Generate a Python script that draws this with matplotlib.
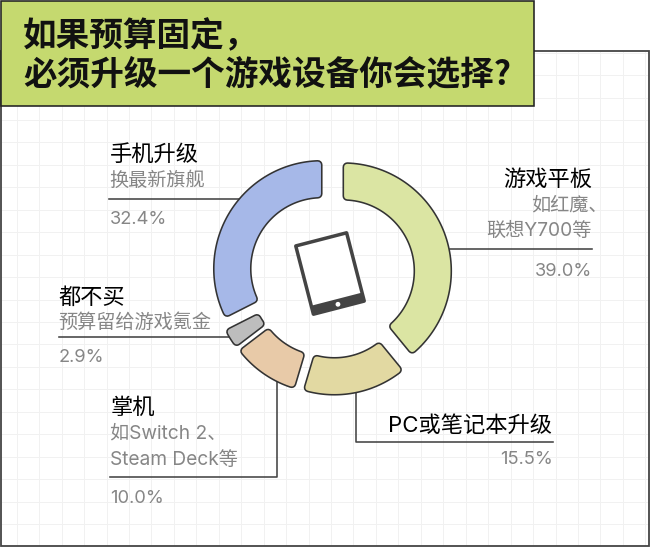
import matplotlib
matplotlib.use('Agg')
import matplotlib.pyplot as plt
import numpy as np
from matplotlib.patches import Rectangle, FancyBboxPatch, Circle, Polygon
from matplotlib.transforms import Affine2D

plt.rcParams['font.family'] = ['Noto Sans CJK SC', 'DejaVu Sans']

title = ['如果预算固定，', '必须升级一个游戏设备你会选择?']
names = ['游戏平板', 'PC或笔记本升级', '掌机', '都不买', '手机升级']
notes = ['如红魔、\n联想Y700等', '', '如Switch 2、\nSteam Deck等', '预算留给游戏氪金', '换最新旗舰']
values = [39.0, 15.5, 10.0, 2.9, 32.4]
colors = ['#DBE5A3', '#E2D9A2', '#E8CAA8', '#BDBDBD', '#A6B8E8']

DARK = '#333333'
GRAY = '#868686'
LATIN = ['Inter', 'Noto Sans CJK SC', 'DejaVu Sans']
PX = 0.72  # one pixel in points at dpi 100

fig = plt.figure(figsize=(6.5, 5.5), dpi=100)
ax = fig.add_axes([0, 0, 1, 1])
ax.set_xlim(0, 650)
ax.set_ylim(550, 0)
ax.axis('off')

# frame and faint grid
for gx in np.arange(16.7, 648, 22.45):
    ax.plot([gx, gx], [52, 545], color='#F1F1F1', lw=1 * PX, zorder=1)
for gy in np.arange(52.6, 545, 22.45):
    ax.plot([2, 648], [gy, gy], color='#F1F1F1', lw=1 * PX, zorder=1)
ax.add_patch(Rectangle((1, 51), 648, 495, fc='none', ec='#444444', lw=1.8 * PX, zorder=2))

# title box
ax.add_patch(Rectangle((1, 1), 533, 105, fc='#C5D96F', ec='#222222', lw=1.6 * PX, zorder=3))
ax.text(23, 36, title[0], fontsize=24.2, fontweight='bold', color='#111111', va='center', zorder=4)
ax.text(23, 75, title[1], fontsize=24.2, fontweight='bold', color='#111111', va='center', zorder=4)

# leader lines under the ring
lw_lead = 1.6 * PX
ax.plot([450, 592], [249, 249], color='#444444', lw=lw_lead, zorder=3)
ax.plot([356, 356, 553], [385, 441.7, 441.7], color='#444444', lw=lw_lead, zorder=3)
ax.plot([277, 277, 110], [375, 477, 477], color='#444444', lw=lw_lead, zorder=3)
ax.plot([59, 235], [337.3, 337.3], color='#444444', lw=lw_lead, zorder=3)
ax.plot([109, 245], [199, 199], color='#444444', lw=lw_lead, zorder=3)


def wedge_outline(cx, cy, a0, a1, r_out, r_in, c):
    # inset ring segment, the stroke puts the rounded corners back
    ro = r_out - c
    ri = r_in + c
    da_o = np.arcsin(c / ro)
    da_i = np.arcsin(c / ri)
    t_o = np.linspace(a0 + da_o, a1 - da_o, 80)
    t_i = np.linspace(a1 - da_i, a0 + da_i, 80)
    xs = np.r_[cx + ro * np.sin(t_o), cx + ri * np.sin(t_i)]
    ys = np.r_[cy - ro * np.cos(t_o), cy - ri * np.cos(t_i)]
    return np.c_[xs, ys]


# exploded donut, clockwise from the top
cx, cy = 332, 275
r_out, r_in, explode, corner = 108, 71, 12, 4
edges = np.r_[0, np.cumsum(values)] / np.sum(values) * 2 * np.pi
for i in range(len(values)):
    mid = (edges[i] + edges[i + 1]) / 2
    ox = cx + explode * np.sin(mid)
    oy = cy - explode * np.cos(mid)
    pts = wedge_outline(ox, oy, edges[i], edges[i + 1], r_out, r_in, corner)
    ax.add_patch(Polygon(pts, closed=True, fc=DARK, ec=DARK, lw=(2 * corner + 1.6) * PX, joinstyle='round', zorder=5))
    ax.add_patch(Polygon(pts, closed=True, fc=colors[i], ec=colors[i], lw=(2 * corner - 1.6) * PX, joinstyle='round', zorder=6))

# tablet icon in the middle
rot = Affine2D().rotate_deg_around(330, 273.5, -14.5) + ax.transData
ax.add_patch(FancyBboxPatch((302, 236.5), 56, 74, boxstyle='round,pad=0,rounding_size=2', fc='#444444', ec='none', transform=rot, zorder=7))
ax.add_patch(Rectangle((305.5, 240), 49, 60, fc='white', ec='none', transform=rot, zorder=8))
ax.add_patch(Circle((330, 305.3), 2.4, fc='white', ec='none', transform=rot, zorder=8))

# labels
fs_name = 16
fs_note = 13.8
fs_pct = 13.2


def name_text(x, y, s, ha='left'):
    ax.text(x, y + 1.5, s, fontsize=fs_name, color='#000000', family=LATIN, ha=ha, va='center', zorder=9)


def gray_text(x, y, s, ha='left', size=fs_note):
    ax.text(x, y + 1, s, fontsize=size, color=GRAY, family=LATIN, ha=ha, va='center', zorder=9)


pct = [f'{v:.1f}%' for v in values]

name_text(592, 178, names[0], 'right')
note0 = notes[0].split('\n')
gray_text(608, 204, note0[0], 'right')
gray_text(592, 230, note0[1], 'right')
gray_text(592, 270, pct[0], 'right', fs_pct)

name_text(551.7, 424, names[1], 'right')
gray_text(553, 458, pct[1], 'right', fs_pct)

name_text(110.5, 406.7, names[2])
note2 = notes[2].split('\n')
gray_text(109.5, 433, note2[0])
gray_text(110, 459, note2[1])
gray_text(110, 497.7, pct[2], size=fs_pct)

name_text(58.5, 296, names[3])
gray_text(58.5, 321.7, notes[3])
gray_text(59, 356, pct[3], size=fs_pct)

name_text(109.5, 153, names[4])
gray_text(109.5, 180, notes[4])
gray_text(110, 218, pct[4], size=fs_pct)

fig.savefig('out.png', dpi=100)
